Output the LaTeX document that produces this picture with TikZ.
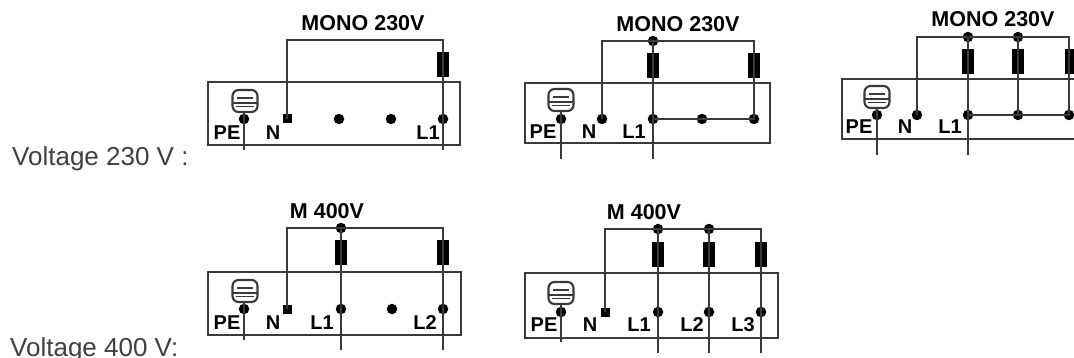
\documentclass[tikz,border=0pt]{standalone}
\usepackage{fontspec}
\setmainfont{Liberation Sans}
\definecolor{wirec}{HTML}{3A3A3A}
\definecolor{textc}{HTML}{404040}
\tikzset{
  wire/.style={draw=wirec,line width=2.1pt,line join=miter},
  boxst/.style={draw=wirec,line width=2.1pt,fill=none,inner sep=0pt,outer sep=0pt},
  term/.style={circle,fill=black,inner sep=0pt,minimum size=10.5pt},
  nterm/.style={rectangle,fill=black,inner sep=0pt,minimum size=9pt},
  res/.style={rectangle,fill=black,inner sep=0pt,minimum width=12pt,minimum height=25pt},
  gnd/.style={draw=wirec,line width=2.1pt,rounded corners=6pt,fill=white,inner sep=0pt,minimum width=25pt,minimum height=22pt},
  gndline/.style={draw=wirec,line width=1.5pt},
  lbl/.style={font=\bfseries\fontsize{20}{22}\selectfont,text=black,inner sep=0pt},
  ttl/.style={font=\bfseries\fontsize{21.5}{24}\selectfont,text=black,inner sep=0pt},
  volt/.style={font=\fontsize{26}{30}\selectfont,text=textc,inner sep=0pt,anchor=base west}
}
\newcommand{\gndsym}[3]{%
  \node[gnd] (#1) at (#2,#3) {};
  \draw[gndline] ([xshift=6pt,yshift=3pt]#1.west) -- ([xshift=-6pt,yshift=3pt]#1.east);
  \draw[gndline] ([xshift=2pt,yshift=-2pt]#1.west) -- ([xshift=-2pt,yshift=-2pt]#1.east);
  \draw[gndline] ([xshift=5pt,yshift=6.5pt]#1.south west) -- ([xshift=-5pt,yshift=6.5pt]#1.south east);
}
\begin{document}
\begin{tikzpicture}[x=1pt,y=-1pt]
\clip (0,0) rectangle (1074,358);
\fill[white] (0,0) rectangle (1074,358);

\node[volt] (v230) at (12,166) {Voltage 230 V :};
\node[volt] (v400) at (10,356) {Voltage 400 V:};

% ---- panel A
\node[ttl] (at) at (363,23) {MONO 230V};
\node[boxst,minimum width=252pt,minimum height=63pt] (abox) at (334,113.5) {};
\gndsym{ag}{245}{101}
\node[term] (ape) at (244,119) {};
\node[nterm] (an) at (287,119) {};
\node[term] (a2) at (339,119) {};
\node[term] (a3) at (391,119) {};
\node[term] (al) at (443,119) {};
\node[res] (ar) at (443,64.5) {};
\coordinate (atop) at (443,40);
\coordinate (aeg) at (244,150);
\coordinate (ael) at (443,150);
\draw[wire] (ag.south -| ape) -- (aeg);
\draw[wire] (an.center) |- (atop) -- (ar.center) -- (al.center) -- (ael);
\node[lbl] (apel) at (227,133) {PE};
\node[lbl] (anl) at (273,133) {N};
\node[lbl] (all) at (428,133) {L1};

% ---- panel B
\node[ttl] (bt) at (678,24) {MONO 230V};
\node[boxst,minimum width=245pt,minimum height=60pt] (bbox) at (647.5,113) {};
\gndsym{bg}{561}{100}
\node[term] (bpe) at (561,119) {};
\node[term] (bn) at (602,119) {};
\node[term] (bl) at (653,119) {};
\node[term] (b3) at (702,119) {};
\node[term] (b4) at (754,119) {};
\node[term] (bj) at (653,41) {};
\node[res] (br1) at (653,65.5) {};
\node[res] (br2) at (754,65.5) {};
\coordinate (btop) at (754,41);
\coordinate (beg) at (561,159);
\coordinate (bel) at (653,159);
\draw[wire] (bg.south -| bpe) -- (beg);
\draw[wire] (bn.center) |- (btop) -- (br2.center) -- (b4.center) -- (bl.center);
\draw[wire] (bj.center) -- (br1.center) -- (bl.center) -- (bel);
\node[lbl] (bpel) at (543,132) {PE};
\node[lbl] (bnl) at (589,132) {N};
\node[lbl] (bll) at (634,132) {L1};

% ---- panel C
\node[ttl] (ct) at (993,19) {MONO 230V};
\node[boxst,minimum width=260pt,minimum height=60pt] (cbox) at (972,109) {};
\gndsym{cg}{877}{97}
\node[term] (cpe) at (877,115) {};
\node[term] (cn) at (917,115) {};
\node[term] (cl) at (968,115) {};
\node[term] (c3) at (1018,115) {};
\node[term] (c4) at (1069,115) {};
\node[term] (cj1) at (968,37) {};
\node[term] (cj2) at (1018,37) {};
\node[res] (cr1) at (968,61.5) {};
\node[res] (cr2) at (1018,61.5) {};
\node[res] (cr3) at (1071,61.5) {};
\coordinate (ctop) at (1069,37);
\coordinate (ceg) at (877,155);
\coordinate (cel) at (968,155);
\draw[wire] (cg.south -| cpe) -- (ceg);
\draw[wire] (cn.center) |- (ctop) -- (c4.center) -- (cl.center);
\draw[wire] (cj1.center) -- (cr1.center) -- (cl.center) -- (cel);
\draw[wire] (cj2.center) -- (cr2.center) -- (c3.center);
\node[lbl] (cpel) at (859,127) {PE};
\node[lbl] (cnl) at (905,127) {N};
\node[lbl] (cll) at (950,127) {L1};

% ---- panel D
\node[ttl] (dt) at (327,211) {M 400V};
\node[boxst,minimum width=253pt,minimum height=63pt] (dbox) at (334.5,303.5) {};
\gndsym{dg}{245}{291}
\node[term] (dpe) at (244,309) {};
\node[nterm] (dn) at (287,309) {};
\node[term] (dl1) at (341,309) {};
\node[term] (d3) at (392,309) {};
\node[term] (dl2) at (443,309) {};
\node[term] (dj) at (341,228) {};
\node[res] (dr1) at (341,253) {};
\node[res] (dr2) at (443,253) {};
\coordinate (dtop) at (443,228);
\coordinate (deg) at (244,340);
\coordinate (del1) at (341,350);
\coordinate (del2) at (443,350);
\draw[wire] (dg.south -| dpe) -- (deg);
\draw[wire] (dn.center) |- (dtop) -- (dr2.center) -- (dl2.center) -- (del2);
\draw[wire] (dj.center) -- (dr1.center) -- (dl1.center) -- (del1);
\node[lbl] (dpel) at (227,323) {PE};
\node[lbl] (dnl) at (273,323) {N};
\node[lbl] (dl1l) at (322,323) {L1};
\node[lbl] (dl2l) at (425,323) {L2};

% ---- panel E
\node[ttl] (et) at (644,212) {M 400V};
\node[boxst,minimum width=253pt,minimum height=65pt] (ebox) at (651.5,305.5) {};
\gndsym{eg}{561}{293}
\node[term] (epe) at (561,312) {};
\node[nterm] (en) at (605,312) {};
\node[term] (el1) at (658,312) {};
\node[term] (el2) at (709,312) {};
\node[term] (el3) at (761,312) {};
\node[term] (ej1) at (658,229) {};
\node[term] (ej2) at (709,229) {};
\node[res] (er1) at (658,255) {};
\node[res] (er2) at (709,255) {};
\node[res] (er3) at (761,255) {};
\coordinate (etop) at (761,229);
\coordinate (eeg) at (561,342);
\coordinate (ee1) at (658,353);
\coordinate (ee2) at (709,353);
\coordinate (ee3) at (761,353);
\draw[wire] (eg.south -| epe) -- (eeg);
\draw[wire] (en.center) |- (etop) -- (er3.center) -- (el3.center) -- (ee3);
\draw[wire] (ej1.center) -- (er1.center) -- (el1.center) -- (ee1);
\draw[wire] (ej2.center) -- (er2.center) -- (el2.center) -- (ee2);
\node[lbl] (epel) at (544,325) {PE};
\node[lbl] (enl) at (590,325) {N};
\node[lbl] (el1l) at (639,325) {L1};
\node[lbl] (el2l) at (692,325) {L2};
\node[lbl] (el3l) at (743,325) {L3};
\end{tikzpicture}
\end{document}
